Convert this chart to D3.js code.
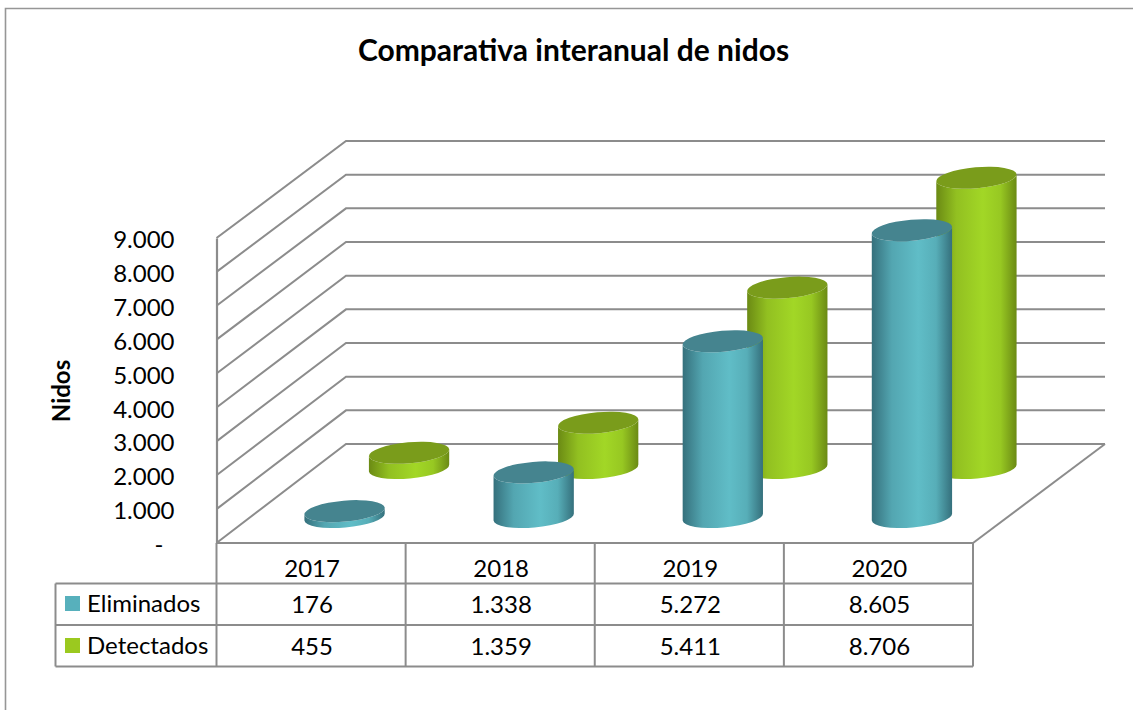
<!DOCTYPE html>
<html>
<head>
<meta charset="utf-8">
<script src="https://cdn.jsdelivr.net/npm/d3@7"></script>
<style>
  html, body { margin: 0; padding: 0; background: #fff; }
  svg { display: block; }
  text { font-family: Lato, "Open Sans", sans-serif; fill: #000; }
</style>
</head>
<body>
<svg width="1133" height="710"></svg>
<script>
var categories = ["2017", "2018", "2019", "2020"];
var eliminados = [176, 1338, 5272, 8605];
var detectados = [455, 1359, 5411, 8706];
var yTicks = [0, 1000, 2000, 3000, 4000, 5000, 6000, 7000, 8000, 9000];

var series = [
  { name: "Detectados", values: detectados, shift: 98, base: 468, light: "#a2d726", dark: "#6b8a14", cap: "#7a9c1b", key: "#9bc91f" },
  { name: "Eliminados", values: eliminados, shift: 33.5, base: 517, light: "#60bdc7", dark: "#35707c", cap: "#45848f", key: "#57b0bc" }
];

var svg = d3.select("svg");
var gridColor = "#8c8c8c";

// 3d box corners
var frontLeft = 216.5, frontRight = 973, backLeft = 346, backRight = 1105;

var x = d3.scaleBand().domain(categories).range([frontLeft, frontRight]);
var yFront = d3.scaleLinear().domain([0, 9000]).range([543, 238]);
var yBack = d3.scaleLinear().domain([0, 9000]).range([444, 141]);
var barHeight = d3.scaleLinear().domain([0, 9000]).range([0, 300]);

var es = d3.formatLocale({ decimal: ",", thousands: ".", grouping: [3], currency: ["", "€"] });
var fmt = es.format(",");

// outer frame of the chart
svg.append("path")
  .attr("d", "M5.5,710V8.5H1133")
  .attr("fill", "none")
  .attr("stroke", "#969696")
  .attr("stroke-width", 1.6);

// title
svg.append("text")
  .attr("x", 573.5).attr("y", 61)
  .attr("text-anchor", "middle")
  .attr("font-size", 30)
  .attr("font-weight", 700)
  .text("Comparativa interanual de nidos");

// gridlines
svg.append("g").selectAll("path")
  .data(yTicks)
  .enter()
  .append("path")
  .attr("d", function(d) {
    return "M" + frontLeft + "," + yFront(d) + "L" + backLeft + "," + yBack(d) + "L" + backRight + "," + yBack(d);
  })
  .attr("fill", "none")
  .attr("stroke", gridColor)
  .attr("stroke-width", 2);

// floor edge on the right
svg.append("path")
  .attr("d", "M" + frontRight + "," + yFront(0) + "L" + backRight + "," + yBack(0))
  .attr("fill", "none")
  .attr("stroke", gridColor)
  .attr("stroke-width", 2);

// y axis
var yAxis = d3.axisLeft(yFront)
  .tickValues(yTicks)
  .tickSize(0)
  .tickPadding(42)
  .tickFormat(function(d) { return d === 0 ? "-" : fmt(d); });

var axisG = svg.append("g")
  .attr("transform", "translate(" + frontLeft + ",0)")
  .call(yAxis);
axisG.select(".domain").attr("stroke", gridColor).attr("stroke-width", 2.2);
axisG.selectAll("text")
  .attr("font-size", 24)
  .attr("font-family", "Lato")
  .attr("fill", "#000")
  .attr("dy", "0.4em")
  .attr("dx", function(d) { return d === 0 ? -11 : 0; });

svg.append("text")
  .attr("transform", "translate(70,391) rotate(-90)")
  .attr("text-anchor", "middle")
  .attr("font-size", 24)
  .attr("font-weight", 700)
  .text("Nidos");

// cylinders
var rx = 40.3, ry = 10.5, tilt = -5;
var tiltRad = tilt * Math.PI / 180;
var dx = rx * Math.cos(tiltRad), dy = rx * Math.sin(tiltRad);

var defs = svg.append("defs");
series.forEach(function(s, i) {
  var grad = defs.append("linearGradient").attr("id", "side" + i);
  grad.append("stop").attr("offset", "0%").attr("stop-color", s.dark);
  grad.append("stop").attr("offset", "25%").attr("stop-color", d3.interpolateRgb(s.dark, s.light)(0.7));
  grad.append("stop").attr("offset", "58%").attr("stop-color", s.light);
  grad.append("stop").attr("offset", "80%").attr("stop-color", d3.interpolateRgb(s.dark, s.light)(0.8));
  grad.append("stop").attr("offset", "100%").attr("stop-color", s.dark);

  var bars = svg.append("g").selectAll("g")
    .data(s.values)
    .enter()
    .append("g");

  function cx(d, j) { return x(categories[j]) + s.shift + x.bandwidth() / 2; }
  function top(d) { return s.base - barHeight(d); }

  bars.append("path")
    .attr("d", function(d, j) {
      var c = cx(d, j), t = top(d), arc = "A" + rx + "," + ry + "," + tilt + ",0,";
      return "M" + (c - dx) + "," + (s.base - dy)
        + arc + "0," + (c + dx) + "," + (s.base + dy)
        + "L" + (c + dx) + "," + (t + dy)
        + arc + "1," + (c - dx) + "," + (t - dy) + "Z";
    })
    .attr("fill", "url(#side" + i + ")");

  bars.append("ellipse")
    .attr("rx", rx)
    .attr("ry", ry)
    .attr("transform", function(d, j) {
      return "translate(" + cx(d, j) + "," + top(d) + ") rotate(" + tilt + ")";
    })
    .attr("fill", s.cap);
});

// data table below the chart
var tableRows = [543, 583.5, 625, 666.5];
var tableLeft = 55.5;
var table = svg.append("g").attr("stroke", gridColor).attr("stroke-width", 2).attr("fill", "none");
tableRows.forEach(function(r, i) {
  table.append("line")
    .attr("x1", i === 0 ? frontLeft : (tableLeft))
    .attr("x2", frontRight)
    .attr("y1", r).attr("y2", r);
});
table.append("line")
  .attr("x1", tableLeft).attr("x2", tableLeft)
  .attr("y1", tableRows[1]).attr("y2", tableRows[3]);
categories.forEach(function(c, i) {
  table.append("line")
    .attr("x1", x(c)).attr("x2", x(c))
    .attr("y1", tableRows[0]).attr("y2", tableRows[3]);
});
table.append("line")
  .attr("x1", frontRight).attr("x2", frontRight)
  .attr("y1", tableRows[0]).attr("y2", tableRows[3]);

svg.append("g").selectAll("text")
  .data(categories)
  .enter()
  .append("text")
  .attr("x", function(d) { return x(d) + x.bandwidth() / 2 + 1; })
  .attr("y", 577)
  .attr("text-anchor", "middle")
  .attr("font-size", 24)
  .text(function(d) { return d; });

var rowData = [series[1], series[0]];
rowData.forEach(function(s, i) {
  var textY = 612 + i * 42;
  svg.append("rect")
    .attr("x", 65).attr("y", 596 + i * 42)
    .attr("width", 15).attr("height", 15)
    .attr("fill", s.key);
  svg.append("text")
    .attr("x", 87).attr("y", textY)
    .attr("font-size", 24)
    .text(s.name);
  svg.append("g").selectAll("text")
    .data(s.values)
    .enter()
    .append("text")
    .attr("x", function(d, j) { return x(categories[j]) + x.bandwidth() / 2 + 1; })
    .attr("y", textY + 1)
    .attr("text-anchor", "middle")
    .attr("font-size", 24)
    .text(function(d) { return fmt(d); });
});
</script>
</body>
</html>
